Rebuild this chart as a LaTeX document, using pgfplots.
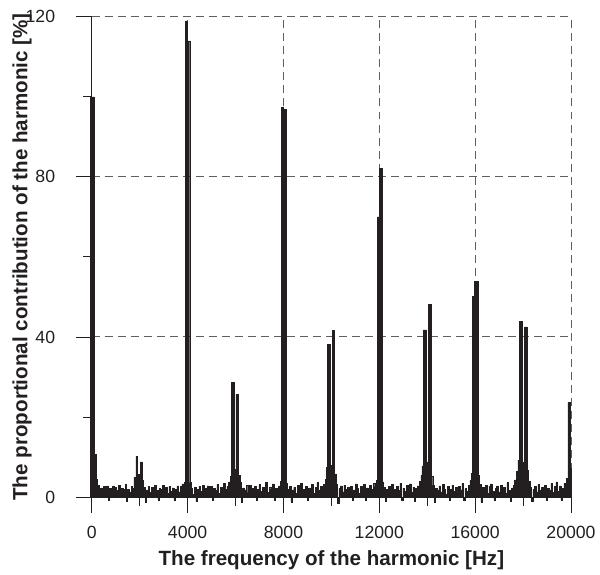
\documentclass[border=0pt]{standalone}
\usepackage{fontspec}
\setmainfont{Liberation Sans}
\usepackage{pgfplots}
\pgfplotsset{compat=1.18}
\usepackage{pgfplotstable}

\definecolor{ink}{RGB}{35,31,32}
\definecolor{gridgray}{RGB}{95,95,95}

% spectrum: frequency [Hz], contribution [%] (step values, held to next x)
\pgfplotstableread{
x y
-60 100
125 10.7
170 4.5
210 2.9
300 1.8
370 2.3
430 0.9
500 2.6
560 1.4
620 2.8
680 -0.8
720 2.1
800 1.5
860 2.7
920 1.1
980 2.4
1040 1.7
1110 2.9
1180 0.6
1240 2.2
1320 1.9
1390 3.1
1450 -1.0
1500 2.0
1570 1.3
1640 2.6
1700 2.1
1760 5.0
1842 10.1
1912 5.7
2021 8.8
2105 4.2
2160 2.5
2230 -1.3
2280 1.8
2350 2.6
2420 1.2
2490 2.4
2560 0.8
2620 2.9
2690 1.6
2760 -0.7
2800 2.2
2870 1.9
2940 3.0
3010 1.4
3080 2.5
3150 0.9
3220 2.7
3290 1.5
3360 2.3
3430 -0.9
3480 2.0
3550 2.8
3620 1.3
3690 2.6
3760 3.3
3830 2.4
3880 3.8
3920 119
3970 114
4090 3.6
4140 2.1
4210 0.7
4280 2.4
4350 -1.1
4400 1.9
4470 2.7
4540 1.5
4610 3.0
4680 1.1
4750 2.3
4820 2.8
4890 1.4
4960 2.6
5030 -0.8
5080 2.1
5150 1.7
5220 3.1
5290 0.9
5360 2.5
5430 1.6
5500 3.4
5570 1.9
5640 2.7
5710 3.8
5780 5.2
5834 28.7
5958 7.0
6013 25.6
6125 5.5
6180 3.6
6250 -1.4
6300 2.3
6370 1.8
6440 2.9
6510 1.2
6580 3.0
6650 2.1
6720 0.8
6790 2.6
6860 -0.9
6910 2.0
6980 3.2
7050 1.5
7120 2.4
7190 1.7
7260 3.6
7330 1.1
7400 2.5
7470 2.0
7540 3.3
7610 -0.7
7660 2.2
7730 1.6
7800 2.8
7860 3.9
7900 97.3
7990 96.8
8110 3.5
8170 1.9
8240 2.7
8310 -1.2
8360 1.8
8430 2.4
8500 0.9
8570 2.9
8640 1.5
8710 3.4
8780 2.0
8850 1.2
8920 2.6
8990 -0.8
9040 2.3
9110 1.7
9180 3.1
9250 1.0
9320 2.5
9390 3.6
9460 1.8
9530 2.7
9600 1.4
9670 3.2
9740 4.5
9790 7.5
9830 38.2
9940 8.0
10040 41.7
10140 5.8
10200 3.2
10260 -1.5
10310 2.1
10380 2.8
10450 1.3
10520 3.0
10590 1.9
10660 2.4
10730 0.7
10800 2.6
10870 -0.9
10920 1.8
10990 3.3
11060 2.2
11130 1.0
11200 2.7
11270 1.6
11340 3.1
11410 -0.8
11460 2.3
11530 1.5
11600 2.9
11670 2.0
11740 3.4
11810 2.6
11870 4.2
11920 70.0
12000 82.1
12125 3.8
12180 2.5
12250 -1.0
12300 1.9
12370 2.7
12440 1.2
12510 3.2
12580 2.0
12650 0.9
12720 2.6
12790 1.7
12860 3.5
12930 -0.7
12980 2.2
13050 1.4
13120 2.9
13190 2.0
13260 3.3
13330 1.1
13400 2.5
13470 -1.1
13520 2.1
13590 2.8
13660 4.0
13730 5.5
13780 7.8
13830 41.8
13940 8.8
14035 48.2
14180 5.2
14230 3.0
14300 -1.2
14350 2.2
14420 1.6
14490 2.8
14560 1.3
14630 3.1
14700 2.0
14770 0.8
14840 2.6
14910 -0.8
14960 1.9
15030 3.0
15100 1.5
15170 2.4
15240 1.1
15310 2.7
15380 1.8
15450 3.4
15520 -0.9
15570 2.1
15640 1.4
15710 2.9
15780 4.1
15830 6.0
15880 50.1
15970 53.9
16115 5.5
16170 3.2
16240 -1.3
16290 2.4
16360 1.7
16430 2.9
16500 1.0
16570 2.6
16640 3.3
16710 1.5
16780 -0.8
16830 2.2
16900 2.8
16970 1.3
17040 3.0
17110 1.9
17180 2.5
17250 0.9
17320 3.6
17390 1.7
17460 -1.0
17510 2.3
17580 2.9
17650 4.3
17720 6.5
17780 9.2
17850 43.9
17945 8.7
18060 42.5
18170 6.6
18230 4.0
18300 2.4
18360 -1.1
18410 2.0
18480 2.7
18550 1.3
18620 3.1
18690 1.8
18760 2.5
18830 0.8
18900 2.9
18970 -0.9
19020 2.1
19090 1.6
19160 3.4
19230 1.2
19300 2.6
19370 3.8
19440 1.5
19510 2.8
19580 -0.7
19630 2.2
19700 3.5
19770 2.0
19820 4.6
19870 23.7
19970 7.2
20000 7.2
}\spectrum

\begin{document}
\begin{tikzpicture}
\begin{axis}[
  width=360.75pt, height=361.5pt,
  scale only axis,
  clip=false,
  xmin=0, xmax=20000,
  ymin=0, ymax=120,
  axis lines*=left,
  axis line style={ink, line width=0.7pt},
  scaled x ticks=false,
  xtick={0,4000,8000,12000,16000,20000},
  xticklabels={0,4000,8000,12000,16000,20000},
  minor xtick={2000,6000,10000,14000,18000},
  ytick={0,40,80,120},
  minor ytick={20,60,100},
  tick align=outside,
  major tick length=12pt,
  minor tick length=6.5pt,
  every tick/.style={ink, line width=0.7pt},
  grid=major,
  major grid style={gridgray, line width=0.75pt, dash pattern=on 6pt off 3.8pt},
  /pgf/number format/assume math mode=true,
  ticklabel style={font=\fontsize{13.3}{15}\selectfont, text=ink},
  xticklabel style={yshift=-6pt},
  yticklabel style={xshift=-12pt},
  xlabel={The frequency of the harmonic [Hz]},
  ylabel={The proportional contribution of the harmonic [\%]},
  every axis x label/.style={at={(axis description cs:0.5,-0.131)}, anchor=center,
    font=\bfseries\fontsize{15.5}{18}\selectfont, text=ink},
  every axis y label/.style={at={(axis description cs:-0.1455,0.5)}, rotate=90, anchor=center,
    font=\bfseries\fontsize{15.5}{18}\selectfont, text=ink},
]
\addplot[const plot, draw=ink, fill=ink, line width=0.35pt] table[x=x, y=y] {\spectrum} \closedcycle;
\end{axis}
% a little white margin left and top, as in the original figure
\path (current bounding box.south west) ++(-6pt,0);
\path (current bounding box.north east) ++(0,4.6pt);
\end{tikzpicture}
\end{document}
